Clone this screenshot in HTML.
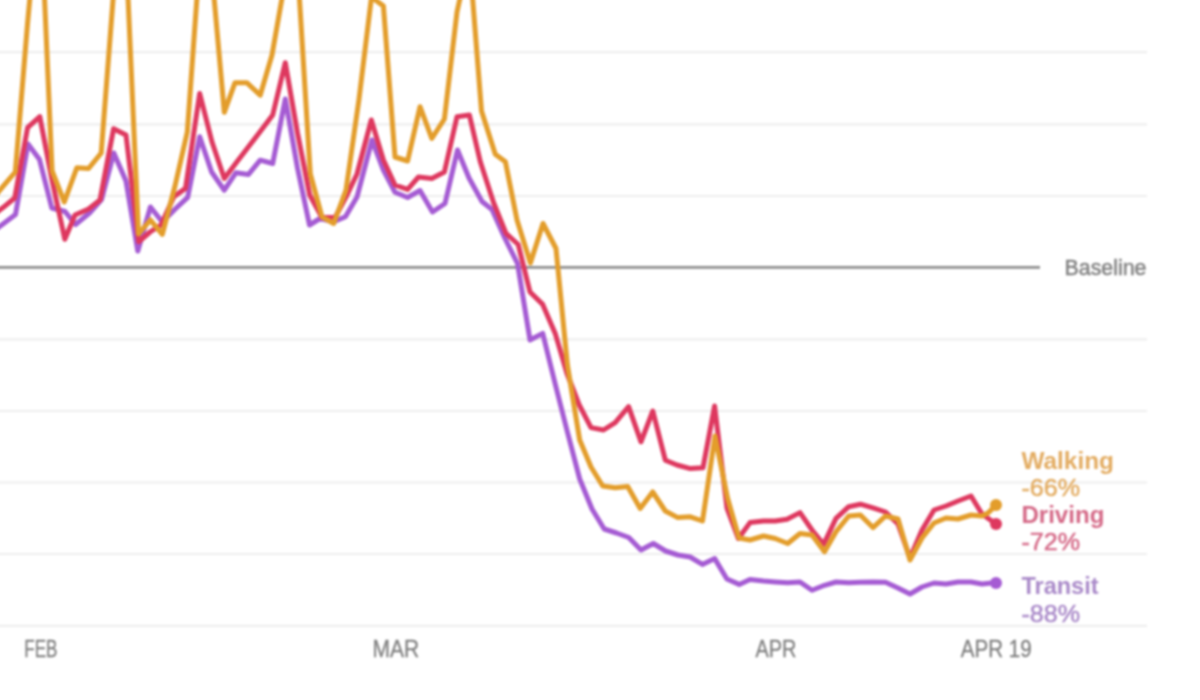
<!DOCTYPE html>
<html><head><meta charset="utf-8"><title>Mobility trends</title>
<style>
html,body{margin:0;padding:0;background:#fff;}
body{width:1200px;height:700px;overflow:hidden;position:relative;font-family:"Liberation Sans",sans-serif;}
svg{position:absolute;left:-20px;top:-20px;display:block;filter:blur(1px);}
text{font-family:"Liberation Sans",sans-serif;}
.ax{fill:#7f7f7f;font-size:23px;stroke:#7f7f7f;stroke-width:0.3px;}
.lb{font-size:24.5px;font-weight:bold;}
.pc{font-size:23px;stroke-width:0.5px;}
</style></head><body>
<svg width="1240" height="740" viewBox="-20 -20 1240 740">
<rect x="-20" y="-20" width="1240" height="740" fill="#fff"/>
<g stroke="#eeeeee" stroke-width="2.2">
<line x1="-20" y1="52.2" x2="1147" y2="52.2"/>
<line x1="-20" y1="124.3" x2="1147" y2="124.3"/>
<line x1="-20" y1="196" x2="1147" y2="196"/>
<line x1="-20" y1="339.3" x2="1147" y2="339.3"/>
<line x1="-20" y1="411" x2="1147" y2="411"/>
<line x1="-20" y1="482.5" x2="1147" y2="482.5"/>
<line x1="-20" y1="554" x2="1147" y2="554"/>
<line x1="-20" y1="625.8" x2="1147" y2="625.8"/>
</g>
<line x1="-20" y1="267.3" x2="1040" y2="267.3" stroke="#8e8e8e" stroke-width="2.8"/>
<g fill="none" stroke-width="5" stroke-linejoin="round" stroke-linecap="round">
<polyline stroke="#A55BD3" points="-21.6,242 -9.3,233 3,224 15.5,214.5 28,144 39.5,159.5 51.8,208 65,211.5 75.5,224.5 89.5,213 101.5,199.5 113.8,153 126,181 137.8,251 150.4,207 162.3,222 175.2,209 187.7,197.3 199.7,136.8 211.6,172 224.3,190.2 236,172.7 248.5,174.4 260.2,160.2 272.7,163.5 285.3,99 297.5,168 309.5,225 320,218.5 333.7,221.8 345.4,216.8 357,197 372,140 383.4,170 395,192.3 407.6,197.5 420,190.5 432.5,212 445,203.5 457.5,150 469,178 482,201.5 492,209.5 505,238.5 517.5,263.5 530,340 542.7,333.4 555.2,384 567.4,432 579.7,479 592,509 604.2,529 616.5,533 628.8,537.5 641,550 653.3,543.5 665.6,551 677.9,555 690.1,557 702.4,564.4 714.7,558.6 726.9,579 739.2,584.4 750,579.4 763.5,581 775.2,582 787.7,582.8 800,582 812,590.3 824.5,585.3 836,582 848.7,582.8 860.4,582.3 873,582 885.5,582.3 898,588 910,594 922,587 934,583 946,584 958,582 971,582 982,584 996,582.6"/>
<polyline stroke="#DE385F" points="-21.6,226 -9.3,217 3,207.6 14.7,198 27.6,127.6 39.8,116.7 52,180 64.8,239.3 75,215 88.6,209 100,200 113.6,128.8 126,135 138.7,241.8 150,232 161,225 173.8,196.7 185.5,188.4 199.7,93.5 212,142 224.3,178.5 236.4,162.6 248.5,146.8 260.6,130.9 272.7,115 285.3,62.7 297.5,133 309.7,195 322,217.6 335,217.6 347,195 357,174 371.3,120 383.4,160 395,185 407.6,189.4 418.5,177 431.8,178.5 444.4,172 457,116.7 469.4,115 480.3,161.8 493.7,203 506,233.4 518.2,244.5 530,292 542.7,304.4 555.2,333.4 567,373.5 579,404.5 591,427.6 603.5,430 615.2,422.6 628.6,406.7 641,441.8 652.8,411 665.3,460.2 677,465 690.4,468.6 703,467.7 714.6,406 727,508 738.4,538.5 750,522.6 763.5,521 775.2,521 787,519.3 800,512.6 812,530 823.6,544.3 836,518.4 848.7,506.7 860.4,504.2 873,507.8 885.5,512 898,524 910,558 922,530 934,510 946,506 958,501 971,496 982,514 996,524"/>
<polyline stroke="#E39D2B" points="-21.6,216 -9.3,201 3,186.4 15.3,172 27.5,24 39.8,-110 52.1,171 64.3,202 76.9,167.7 88.6,168.5 101.2,153 113.4,-5 125.7,-55 138.5,234 150.4,220 162.3,234.3 175,186 187.3,132 199.3,-35 211.6,-30 224.3,112.3 235,82.7 246.8,82.7 260.2,95.2 272,55 285.2,-20 297.5,-33 310.3,174 322,216.8 333.7,223.5 346,190 358.9,100 371.5,-3 383.4,6 395,157 407.6,161 420,106.7 431.8,138.5 444.4,119 457,12 469.3,-44 481.5,111 495.3,154.3 505.4,161.8 517,220 530.4,263 543,223.5 556,248.5 567.4,365 579.7,440 591,467 602.7,486 615.2,487.7 627.7,486.5 640.2,508.5 652.7,492 665.3,511 677.8,517.6 690.3,516.8 702.5,521 715,436 727.5,498 739,538 750,540 763.5,536 775.2,538.5 787.7,543.5 800,533.5 812,535 824.5,551.8 836,531.8 848.7,516 860.4,515 873,527.6 885.5,516 898,519 910,560 922,538 934,523 946,518 958,519 971,515 982,516 988,513 996,505"/>
</g>
<circle cx="996" cy="524" r="6" fill="#DE385F"/>
<circle cx="996" cy="505" r="6" fill="#E39D2B"/>
<circle cx="996" cy="583" r="6" fill="#A55BD3"/>
<text class="ax" x="1064.5" y="275.3" textLength="82" lengthAdjust="spacingAndGlyphs" style="fill:#808080;stroke:#808080;stroke-width:0.5px;font-size:21.5px">Baseline</text>
<text class="ax" x="24.2" y="656.7" textLength="33.3" lengthAdjust="spacingAndGlyphs">FEB</text>
<text class="ax" x="372.5" y="656.7" textLength="46.7" lengthAdjust="spacingAndGlyphs">MAR</text>
<text class="ax" x="755.4" y="656.7" textLength="41" lengthAdjust="spacingAndGlyphs">APR</text>
<text class="ax" x="960.8" y="656.7" textLength="70.8" lengthAdjust="spacingAndGlyphs">APR 19</text>
<g>
<text class="lb" x="1021.4" y="468.6" textLength="92.6" lengthAdjust="spacingAndGlyphs" fill="#E3AC62">Walking</text>
<text class="pc" x="1021.4" y="495.7" textLength="58.6" lengthAdjust="spacingAndGlyphs" fill="#E3AC62" stroke="#E3AC62">-66%</text>
<text class="lb" x="1021.4" y="522.9" textLength="83" lengthAdjust="spacingAndGlyphs" fill="#D56A88">Driving</text>
<text class="pc" x="1021.4" y="550" textLength="58.6" lengthAdjust="spacingAndGlyphs" fill="#D56A88" stroke="#D56A88">-72%</text>
<text class="lb" x="1021.4" y="594.3" textLength="77.2" lengthAdjust="spacingAndGlyphs" fill="#AA8AC9">Transit</text>
<text class="pc" x="1021.4" y="622.3" textLength="58.6" lengthAdjust="spacingAndGlyphs" fill="#AA8AC9" stroke="#AA8AC9">-88%</text>
</g>
</svg>
</body></html>
